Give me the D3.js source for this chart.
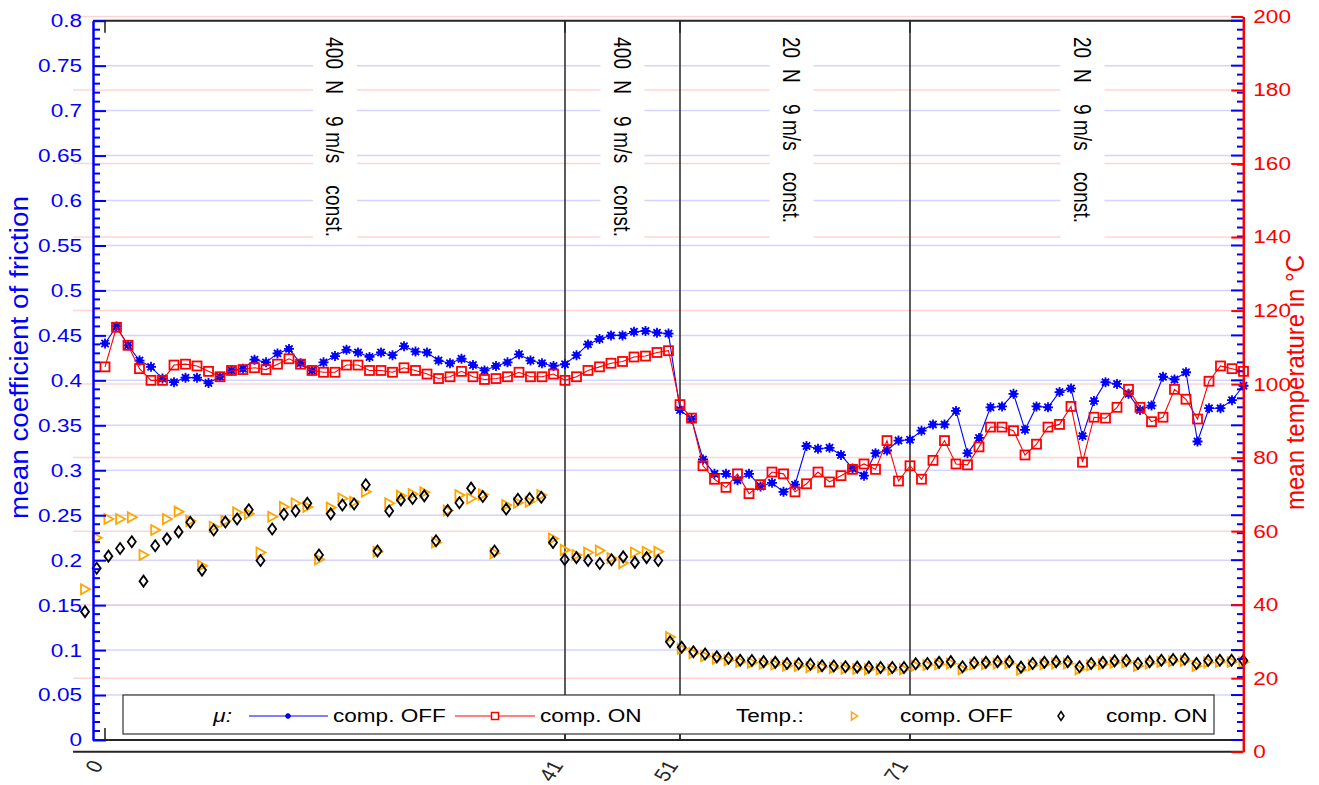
<!DOCTYPE html>
<html>
<head>
<meta charset="utf-8">
<script src="https://cdn.jsdelivr.net/npm/d3@7"></script>
<style>
  body { margin: 0; background: #fff; }
  svg { display: block; }
  text { font-family: "Liberation Sans", Arial, sans-serif; }
</style>
</head>
<body>
<svg id="chart" width="1319" height="785"></svg>
<script>
// measurement index 1..100
const idx = d3.range(1, 101);

// mean coefficient of friction, compensation OFF / ON
const muOff = [
  0.441, 0.460, 0.439, 0.422, 0.415, 0.402, 0.398, 0.403, 0.403, 0.397,
  0.404, 0.411, 0.413, 0.423, 0.420, 0.430, 0.435, 0.419, 0.411, 0.420,
  0.427, 0.434, 0.431, 0.426, 0.431, 0.428, 0.438, 0.432, 0.431, 0.422,
  0.419, 0.424, 0.417, 0.411, 0.416, 0.420, 0.429, 0.422, 0.419, 0.416,
  0.418, 0.428, 0.440, 0.446, 0.450, 0.450, 0.454, 0.455, 0.453, 0.452,
  0.367, 0.357, 0.312, 0.296, 0.296, 0.289, 0.296, 0.282, 0.286, 0.276,
  0.284, 0.327, 0.324, 0.325, 0.317, 0.302, 0.294, 0.319, 0.322, 0.333,
  0.334, 0.344, 0.351, 0.351, 0.366, 0.319, 0.336, 0.370, 0.371, 0.385,
  0.345, 0.371, 0.370, 0.387, 0.391, 0.338, 0.377, 0.398, 0.396, 0.385,
  0.367, 0.372, 0.404, 0.401, 0.409, 0.332, 0.369, 0.369, 0.378, 0.394
];
const muOn = [
  0.415, 0.459, 0.439, 0.413, 0.400, 0.400, 0.417, 0.418, 0.416, 0.410,
  0.404, 0.411, 0.412, 0.414, 0.412, 0.418, 0.424, 0.418, 0.411, 0.409,
  0.409, 0.417, 0.417, 0.411, 0.411, 0.409, 0.414, 0.411, 0.407, 0.402,
  0.404, 0.410, 0.404, 0.401, 0.402, 0.404, 0.409, 0.404, 0.404, 0.407,
  0.400, 0.404, 0.411, 0.415, 0.419, 0.421, 0.426, 0.427, 0.431, 0.433,
  0.373, 0.358, 0.305, 0.290, 0.281, 0.296, 0.274, 0.284, 0.298, 0.296,
  0.276, 0.285, 0.298, 0.287, 0.294, 0.301, 0.307, 0.301, 0.333, 0.288,
  0.305, 0.290, 0.311, 0.333, 0.307, 0.306, 0.326, 0.348, 0.348, 0.344,
  0.317, 0.329, 0.348, 0.351, 0.371, 0.309, 0.359, 0.358, 0.370, 0.390,
  0.370, 0.354, 0.359, 0.390, 0.379, 0.357, 0.399, 0.416, 0.413, 0.410
];

// mean temperature in °C, compensation OFF / ON
const tempOff = [
  44.2, 58.2, 63.3, 63.3, 63.8, 53.5, 60.3, 63.3, 65.3, 62.8,
  50.6, 61.2, 62.8, 65.1, 64.7, 54.2, 63.9, 66.6, 67.6, 66.6,
  52.3, 66.4, 68.9, 68.0, 70.7, 54.4, 67.6, 69.6, 70.1, 70.6,
  56.9, 65.6, 69.8, 68.9, 70.0, 54.0, 67.1, 67.7, 68.0, 69.8,
  58.0, 54.9, 53.5, 54.2, 54.7, 52.7, 51.3, 54.2, 54.4, 54.4,
  31.2, 28.0, 26.8, 26.0, 25.3, 24.9, 24.4, 24.2, 23.9, 23.7,
  23.4, 23.3, 23.0, 23.0, 22.8, 22.6, 22.5, 22.4, 22.4, 22.3,
  22.4, 23.4, 23.6, 23.8, 24.0, 22.4, 23.7, 23.8, 24.0, 24.0,
  22.3, 23.5, 23.8, 24.0, 24.0, 22.4, 23.5, 23.8, 24.2, 24.3,
  23.3, 24.0, 24.4, 24.6, 24.7, 23.3, 24.3, 24.4, 24.4, 24.3
];
const tempOn = [
  38.1, 49.9, 53.2, 55.3, 57.1, 46.4, 56.0, 57.9, 59.8, 62.4,
  49.4, 60.3, 62.5, 63.3, 65.8, 52.0, 60.6, 64.6, 65.5, 67.6,
  53.5, 64.7, 67.1, 67.4, 72.6, 54.6, 65.5, 68.5, 68.9, 69.6,
  57.4, 65.6, 67.7, 71.7, 69.4, 54.6, 66.0, 68.7, 68.9, 69.2,
  56.9, 52.3, 52.8, 52.0, 51.2, 52.2, 53.0, 51.5, 52.8, 52.0,
  29.9, 28.4, 27.2, 26.6, 25.8, 25.4, 24.9, 24.8, 24.5, 24.3,
  24.0, 23.9, 23.8, 23.4, 23.3, 23.1, 23.0, 23.0, 22.9, 22.9,
  22.9, 23.9, 24.0, 24.3, 24.5, 23.1, 24.2, 24.3, 24.5, 24.5,
  23.0, 24.0, 24.3, 24.5, 24.5, 23.1, 24.0, 24.3, 24.7, 24.8,
  24.0, 24.5, 24.9, 25.1, 25.2, 24.0, 24.8, 24.9, 24.9, 24.8
];

const muTicks = [0, 0.05, 0.1, 0.15, 0.2, 0.25, 0.3, 0.35, 0.4, 0.45, 0.5, 0.55, 0.6, 0.65, 0.7, 0.75, 0.8];
const tempTicks = [0, 20, 40, 60, 80, 100, 120, 140, 160, 180, 200];
const xTickValues = [1, 41, 51, 71];
const xTickLabels = ["0", "41", "51", "71"];
const phaseBreaks = [41, 51, 71];
const phasePos = [21, 46, 60.7, 86];
const phaseLabels = [
  "400  N    9 m/s    const.",
  "400  N    9 m/s    const.",
  "20  N    9 m/s    const.",
  "20  N    9 m/s    const."
];
const phaseLengths = [200, 200, 186, 186];

const BLUE = "#0000ff", RED = "#ff0000", ORANGE = "#ffa500";
const SX = 1.22;          // horizontal stretch of the original raster text
const FS = 18.5;

const svg = d3.select("#chart");

const xMu = d3.scaleLinear().domain([0, 100]).range([93.5, 1243.5]);
const yMu = d3.scaleLinear().domain([0, 0.8]).range([740, 20.7]);
const xT = d3.scaleLinear().domain([0, 100]).range([73.3, 1243.3]);
const yT = d3.scaleLinear().domain([0, 200]).range([751.7, 16.5]);

function stretch(sel, x, y, rot, sx) {
  sel.attr("x", 0).attr("y", 0)
    .attr("transform", `translate(${x},${y}) scale(${sx || SX},1)` + (rot ? ` rotate(${rot})` : ""));
  return sel;
}

// grid lines
svg.append("g").selectAll("line").data(tempTicks).enter().append("line")
  .attr("x1", 73).attr("x2", 1243)
  .attr("y1", d => yT(d)).attr("y2", d => yT(d))
  .attr("stroke", "#ffd4d4").attr("stroke-width", 1.5);
svg.append("g").selectAll("line").data(muTicks).enter().append("line")
  .attr("x1", 93).attr("x2", 1243)
  .attr("y1", d => yMu(d)).attr("y2", d => yMu(d))
  .attr("stroke", "#d4d4ff").attr("stroke-width", 1.5);

// phase separators
svg.append("g").selectAll("line").data(phaseBreaks).enter().append("line")
  .attr("x1", d => xMu(d)).attr("x2", d => xMu(d))
  .attr("y1", yMu(0.8)).attr("y2", yMu(0))
  .attr("stroke", "#333").attr("stroke-width", 1.6);

// phase annotations (white background, rotated)
const ann = svg.append("g").selectAll("g").data(phasePos).enter().append("g");
ann.append("rect")
  .attr("x", d => xMu(d) - 22).attr("width", 44)
  .attr("y", 30).attr("height", 214)
  .attr("fill", "#fff");
ann.append("text")
  .text((d, i) => phaseLabels[i])
  .style("white-space", "pre")
  .attr("font-size", 19).attr("fill", "#000")
  .attr("textLength", (d, i) => phaseLengths[i]).attr("lengthAdjust", "spacing")
  .each(function(d) { stretch(d3.select(this), xMu(d) - 9, 37, 90, 1.3); });

// box lines
svg.append("line").attr("x1", 93).attr("x2", 1243).attr("y1", yMu(0.8)).attr("y2", yMu(0.8))
  .attr("stroke", "#262626").attr("stroke-width", 2);
svg.append("line").attr("x1", 93).attr("x2", 1243).attr("y1", yMu(0)).attr("y2", yMu(0))
  .attr("stroke", "#262626").attr("stroke-width", 2);
svg.append("line").attr("x1", 73).attr("x2", 1243).attr("y1", yT(0)).attr("y2", yT(0))
  .attr("stroke", "#262626").attr("stroke-width", 2);

// x ticks (top & bottom) and rotated labels
const xt = svg.append("g").selectAll("g").data(xTickValues).enter().append("g");
xt.append("line").attr("x1", d => xMu(d)).attr("x2", d => xMu(d))
  .attr("y1", yMu(0.8)).attr("y2", yMu(0.8) + 12).attr("stroke", "#262626").attr("stroke-width", 1.6);
xt.append("line").attr("x1", d => xMu(d)).attr("x2", d => xMu(d))
  .attr("y1", yMu(0) - 12).attr("y2", yMu(0)).attr("stroke", "#262626").attr("stroke-width", 1.6);
xt.append("text")
  .text((d, i) => xTickLabels[i])
  .attr("font-size", FS).attr("fill", "#262626").attr("text-anchor", "end")
  .each(function(d) { stretch(d3.select(this), xMu(d) - 1, 765, -60); });

// temperature markers
const tri = "M-4,-5L5,0L-4,5Z";
const dia = "M0,-5.5L4,0L0,5.5L-4,0Z";
svg.append("g").selectAll("path").data(idx).enter().append("path")
  .attr("d", tri)
  .attr("transform", (d, i) => `translate(${xT(d)},${yT(tempOff[i])})`)
  .attr("fill", "none").attr("stroke", ORANGE).attr("stroke-width", 1.8);
svg.append("g").selectAll("path").data(idx).enter().append("path")
  .attr("d", dia)
  .attr("transform", (d, i) => `translate(${xT(d)},${yT(tempOn[i])})`)
  .attr("fill", "none").attr("stroke", "#000").attr("stroke-width", 1.8);

// friction lines and markers
const star = "M-5,0H5M0,-5V5M-3.6,-3.6L3.6,3.6M-3.6,3.6L3.6,-3.6";
const lineOff = d3.line().x(d => xMu(d)).y((d, i) => yMu(muOff[i]));
const lineOn = d3.line().x(d => xMu(d)).y((d, i) => yMu(muOn[i]));
svg.append("path").datum(idx).attr("d", lineOff)
  .attr("fill", "none").attr("stroke", BLUE).attr("stroke-width", 1.1);
const offPts = svg.append("g").selectAll("g").data(idx).enter().append("g")
  .attr("transform", (d, i) => `translate(${xMu(d)},${yMu(muOff[i])})`);
offPts.append("circle").attr("r", 3.2).attr("fill", BLUE);
offPts.append("path").attr("d", star).attr("stroke", BLUE).attr("stroke-width", 1.8);

svg.append("path").datum(idx).attr("d", lineOn)
  .attr("fill", "none").attr("stroke", RED).attr("stroke-width", 1.1);
svg.append("g").selectAll("rect").data(idx).enter().append("rect")
  .attr("x", d => xMu(d) - 4.5).attr("y", (d, i) => yMu(muOn[i]) - 4.5)
  .attr("width", 9).attr("height", 9)
  .attr("fill", "none").attr("stroke", RED).attr("stroke-width", 1.8);

// legend
const leg = svg.append("g");
leg.append("rect").attr("x", 123).attr("y", 695).attr("width", 1091).attr("height", 39)
  .attr("fill", "#fff").attr("stroke", "#333").attr("stroke-width", 1.2);
const ly = 716;
function legText(str, x, anchor, italic) {
  const t = leg.append("text").text(str).attr("font-size", FS).attr("fill", "#000")
    .attr("dy", "0.35em").attr("text-anchor", anchor || "start");
  if (italic) t.attr("font-style", "italic");
  stretch(t, x, ly);
}
legText("\u03bc:", 232, "end", true);
leg.append("line").attr("x1", 249).attr("x2", 328).attr("y1", ly).attr("y2", ly).attr("stroke", BLUE);
leg.append("circle").attr("cx", 288).attr("cy", ly).attr("r", 2.2).attr("fill", BLUE);
leg.append("path").attr("d", "M-3,0H3M0,-3V3M-2,-2L2,2M-2,2L2,-2")
  .attr("transform", `translate(288,${ly})`).attr("stroke", BLUE).attr("stroke-width", 1.4);
legText("comp. OFF", 333);
leg.append("line").attr("x1", 455).attr("x2", 535).attr("y1", ly).attr("y2", ly).attr("stroke", RED);
leg.append("rect").attr("x", 491.5).attr("y", ly - 3.5).attr("width", 7).attr("height", 7)
  .attr("fill", "#fff").attr("stroke", RED).attr("stroke-width", 1.5);
legText("comp. ON", 540);
legText("Temp.:", 736);
leg.append("path").attr("d", "M-2.5,-4L3.5,0L-2.5,4Z").attr("transform", `translate(854,${ly})`)
  .attr("fill", "none").attr("stroke", ORANGE).attr("stroke-width", 1.5);
legText("comp. OFF", 900);
leg.append("path").attr("d", "M0,-4.5L3,0L0,4.5L-3,0Z").attr("transform", `translate(1061,${ly})`)
  .attr("fill", "none").attr("stroke", "#000").attr("stroke-width", 1.5);
legText("comp. ON", 1106);

// left axis (friction)
const leftAxis = svg.append("g").attr("transform", `translate(${xMu(0) - 0.5},0)`)
  .call(d3.axisLeft(yMu).tickValues(muTicks).tickSizeInner(-13).tickSizeOuter(0)
    .tickPadding(11).tickFormat(d => String(+d.toFixed(2))));
leftAxis.select(".domain").attr("stroke", BLUE).attr("stroke-width", 2.5);
leftAxis.selectAll(".tick line").attr("stroke", BLUE).attr("stroke-width", 2);
leftAxis.selectAll(".tick text").attr("fill", BLUE).attr("font-size", FS)
  .attr("font-family", null)
  .each(function() {
    const t = d3.select(this);
    const x = +t.attr("x");
    t.attr("x", 0).attr("transform", `translate(${x},0) scale(${SX},1)`);
  });
const minorMu = d3.range(0, 81).map(d => d / 100).filter(d => Math.round(d * 100) % 5 !== 0);
svg.append("g").selectAll("line").data(minorMu).enter().append("line")
  .attr("x1", xMu(0) - 0.5).attr("x2", xMu(0) + 6.5)
  .attr("y1", d => yMu(d)).attr("y2", d => yMu(d))
  .attr("stroke", BLUE).attr("stroke-width", 2);

// mirrored friction ticks on the right side
svg.append("g").selectAll("line").data(muTicks).enter().append("line")
  .attr("x1", 1231).attr("x2", 1243)
  .attr("y1", d => yMu(d)).attr("y2", d => yMu(d))
  .attr("stroke", BLUE).attr("stroke-width", 2);
svg.append("g").selectAll("line").data(minorMu).enter().append("line")
  .attr("x1", 1237).attr("x2", 1243)
  .attr("y1", d => yMu(d)).attr("y2", d => yMu(d))
  .attr("stroke", BLUE).attr("stroke-width", 2);

// right axis (temperature)
const rightAxis = svg.append("g").attr("transform", `translate(1243.3,0)`)
  .call(d3.axisRight(yT).tickValues(tempTicks).tickSizeInner(-12).tickSizeOuter(0).tickPadding(10));
rightAxis.select(".domain").attr("stroke", RED).attr("stroke-width", 2.5);
rightAxis.selectAll(".tick line").attr("stroke", RED).attr("stroke-width", 2);
rightAxis.selectAll(".tick text").attr("fill", RED).attr("font-size", FS)
  .attr("font-family", null)
  .each(function() {
    const t = d3.select(this);
    const x = +t.attr("x");
    t.attr("x", 0).attr("transform", `translate(${x},0) scale(${SX},1)`);
  });

// axis titles
const lt = svg.append("text").text("mean coefficient of friction")
  .attr("fill", BLUE).attr("font-size", 21).attr("text-anchor", "middle")
  .attr("textLength", 323).attr("lengthAdjust", "spacingAndGlyphs");
stretch(lt, 28, 357.5, -90);
const rt = svg.append("text").text("mean temperature in \u00b0C")
  .attr("fill", RED).attr("font-size", 21).attr("text-anchor", "middle")
  .attr("textLength", 255).attr("lengthAdjust", "spacingAndGlyphs");
stretch(rt, 1304, 382.5, -90);
</script>
</body>
</html>
